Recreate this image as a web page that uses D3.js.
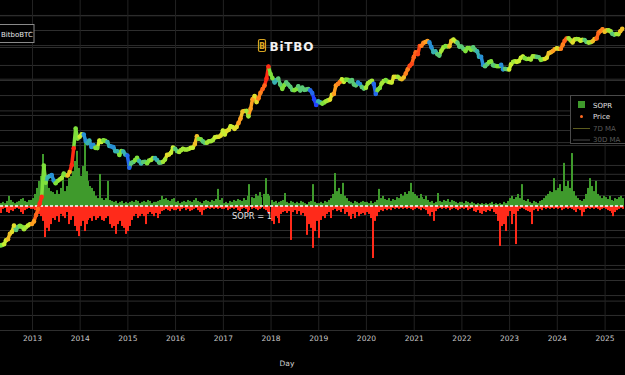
<!DOCTYPE html>
<html>
<head>
<meta charset="utf-8">
<script src="https://cdn.jsdelivr.net/npm/d3@7"></script>
<style>
  html, body { margin: 0; padding: 0; background: #000; }
  svg { display: block; font-family: "DejaVu Sans", sans-serif; }
</style>
</head>
<body>
<div id="chart"></div>
<script>
// half-month samples (1st and 16th of each month) starting May 2012
const firstYear = 2012, firstMonth = 4;

const price = [
  5.0, 5.1, 5.3, 6.4, 6.7, 8.6, 9.4, 12.5, 10.2, 11.8, 12.4, 11.8, 10.6, 11.7, 12.6, 13.3,
  13.5, 15.2, 20.4, 27, 34.5, 47, 200, 90, 116, 123, 129, 100, 88, 98, 105, 112, 138, 127, 126, 148, 203, 440, 1100, 690,
  750, 840, 830, 620, 560, 630, 470, 510, 450, 445, 630, 590, 640, 620, 590, 490, 480, 465, 385, 385, 325, 390, 380, 330,
  315, 180, 225, 235, 255, 285, 245, 220, 235, 237, 222, 250, 258, 280, 280, 257, 228, 229, 237, 262, 325, 330, 360, 455,
  432, 387, 372, 405, 433, 416, 416, 430, 450, 454, 535, 765, 675, 665, 605, 567, 572, 607, 613, 640, 730, 745, 752, 790,
  1000, 830, 990, 1040, 1220, 1170, 1080, 1180, 1420, 1730, 2400, 2450, 2490, 1920, 2720, 4200, 4900, 3700, 4400, 5700, 6750, 7900, 10900, 19000,
  13500, 11100, 9100, 10200, 10900, 8300, 6800, 8100, 9200, 8300, 7500, 6500, 6400, 6700, 7700, 6300, 7200, 6500, 6600, 6750, 6350, 5600, 4200, 3250,
  3850, 3650, 3450, 3650, 3850, 4000, 4150, 5200, 5400, 7900, 8550, 9300, 10600, 9400, 10400, 10300, 9600, 10250, 8300, 8000, 9150, 8500, 7400, 6900,
  7200, 8800, 9400, 9900, 8550, 5400, 6600, 7100, 8800, 9700, 10200, 9500, 9230, 9100, 11800, 11900, 11900, 11000, 10600, 11500, 13800, 16700, 19600, 21300,
  29300, 36800, 33500, 49100, 49600, 56500, 58900, 61300, 57800, 46400, 36700, 38300, 33500, 31500, 39900, 45900, 48800, 48000, 48200, 62000, 66000, 60300, 57200, 47600,
  47700, 43100, 38700, 44600, 44400, 41100, 46300, 40500, 38500, 30000, 29800, 20400, 19300, 21200, 23300, 24100, 20100, 19700, 19300, 19300, 20500, 16700, 17100, 16800,
  16600, 21100, 23700, 24300, 23600, 24400, 28500, 30300, 28000, 27000, 27200, 26300, 30600, 30300, 29700, 29200, 25900, 26600, 27000, 28500, 35400, 36600, 38700, 42300,
  44200, 43100, 43100, 52100, 62400, 69400, 69700, 63400, 57800, 66200, 67800, 66600, 62700, 64800, 64600, 58900, 57300, 58200, 60800, 67600, 69500, 90600, 97200, 106100,
  94400, 100500, 100600, 96000, 86000, 82700, 85100, 84000, 96500, 108000
];

// highest SOPR above 1 within each half month
const soprUp = [
  1.009, 1.013, 1.009, 1.016, 1.032, 1.019, 1.013, 1.009, 1.013, 1.016, 1.022, 1.025, 1.016, 1.013, 1.019, 1.019,
  1.025, 1.038, 1.057, 1.079, 1.095, 1.164, 1.126, 1.069, 1.057, 1.047, 1.044, 1.038, 1.050, 1.038, 1.057, 1.101, 1.047, 1.063, 1.088, 1.095, 1.110, 1.142, 1.174, 1.120,
  1.095, 1.126, 1.205, 1.110, 1.079, 1.063, 1.057, 1.047, 1.032, 1.025, 1.101, 1.025, 1.019, 1.025, 1.079, 1.019, 1.016, 1.013, 1.016, 1.009, 1.013, 1.016, 1.009, 1.013,
  1.009, 1.013, 1.016, 1.013, 1.019, 1.016, 1.009, 1.013, 1.016, 1.013, 1.019, 1.016, 1.009, 1.013, 1.013, 1.016, 1.019, 1.032, 1.022, 1.025, 1.019, 1.016, 1.022, 1.025,
  1.013, 1.016, 1.009, 1.013, 1.016, 1.013, 1.019, 1.016, 1.013, 1.019, 1.025, 1.016, 1.013, 1.009, 1.016, 1.019, 1.016, 1.013, 1.019, 1.016, 1.022, 1.054, 1.019, 1.025,
  1.009, 1.013, 1.009, 1.016, 1.013, 1.019, 1.016, 1.022, 1.019, 1.016, 1.025, 1.019, 1.032, 1.069, 1.028, 1.025, 1.038, 1.032, 1.044, 1.028, 1.038, 1.088, 1.038, 1.032,
  1.019, 1.013, 1.016, 1.009, 1.013, 1.016, 1.019, 1.041, 1.013, 1.009, 1.016, 1.013, 1.009, 1.013, 1.009, 1.016, 1.013, 1.009, 1.006, 1.013, 1.016, 1.069, 1.013, 1.009,
  1.009, 1.013, 1.009, 1.016, 1.013, 1.019, 1.025, 1.038, 1.104, 1.047, 1.057, 1.038, 1.073, 1.032, 1.025, 1.016, 1.013, 1.009, 1.016, 1.013, 1.009, 1.013, 1.016, 1.013,
  1.013, 1.009, 1.016, 1.009, 1.013, 1.019, 1.054, 1.025, 1.032, 1.022, 1.019, 1.025, 1.016, 1.022, 1.019, 1.028, 1.025, 1.038, 1.032, 1.044, 1.038, 1.047, 1.073, 1.044,
  1.038, 1.032, 1.025, 1.038, 1.028, 1.022, 1.032, 1.019, 1.013, 1.016, 1.009, 1.013, 1.041, 1.016, 1.013, 1.019, 1.016, 1.022, 1.013, 1.019, 1.016, 1.013, 1.009, 1.013,
  1.013, 1.009, 1.016, 1.013, 1.009, 1.013, 1.009, 1.006, 1.009, 1.006, 1.009, 1.006, 1.009, 1.006, 1.009, 1.013, 1.006, 1.009, 1.006, 1.009, 1.006, 1.013, 1.009, 1.016,
  1.025, 1.032, 1.022, 1.028, 1.038, 1.025, 1.069, 1.019, 1.016, 1.022, 1.013, 1.009, 1.016, 1.013, 1.009, 1.016, 1.019, 1.025, 1.032, 1.038, 1.047, 1.044, 1.088, 1.050,
  1.057, 1.069, 1.047, 1.136, 1.063, 1.079, 1.057, 1.167, 1.047, 1.032, 1.025, 1.019, 1.016, 1.022, 1.038, 1.057, 1.088, 1.063, 1.047, 1.079, 1.038, 1.032, 1.025, 1.032,
  1.028, 1.022, 1.032, 1.019, 1.016, 1.025, 1.022, 1.028, 1.032, 1.025
];

// lowest SOPR below 1 within each half month
const soprDown = [
  0.978, 0.991, 0.994, 0.981, 0.978, 0.987, 0.984, 0.991, 0.994, 0.991, 0.981, 0.975, 0.987, 0.991, 0.994, 0.991,
  0.991, 0.987, 0.984, 0.975, 0.968, 0.953, 0.902, 0.931, 0.921, 0.943, 0.962, 0.956, 0.968, 0.950, 0.975, 0.968, 0.962, 0.981, 0.943, 0.956, 0.968, 0.937, 0.921, 0.905,
  0.937, 0.953, 0.921, 0.943, 0.956, 0.962, 0.953, 0.968, 0.956, 0.962, 0.968, 0.956, 0.953, 0.962, 0.968, 0.943, 0.931, 0.937, 0.912, 0.943, 0.953, 0.937, 0.931, 0.912,
  0.921, 0.937, 0.956, 0.968, 0.975, 0.962, 0.968, 0.975, 0.968, 0.943, 0.975, 0.981, 0.975, 0.968, 0.978, 0.962, 0.975, 0.984, 0.987, 0.991, 0.987, 0.984, 0.991, 0.987,
  0.987, 0.991, 0.984, 0.991, 0.994, 0.987, 0.991, 0.984, 0.987, 0.991, 0.994, 0.987, 0.981, 0.972, 0.987, 0.991, 0.994, 0.991, 0.994, 0.991, 0.994, 0.991, 0.994, 0.991,
  0.991, 0.994, 0.987, 0.991, 0.994, 0.991, 0.994, 0.987, 0.984, 0.991, 0.994, 0.991, 0.981, 0.987, 0.991, 0.994, 0.991, 0.987, 0.991, 0.994, 0.991, 0.987, 0.981, 0.975,
  0.953, 0.943, 0.968, 0.962, 0.946, 0.975, 0.981, 0.984, 0.978, 0.984, 0.893, 0.981, 0.987, 0.975, 0.984, 0.972, 0.978, 0.968, 0.909, 0.943, 0.931, 0.868, 0.921, 0.953,
  0.899, 0.956, 0.968, 0.962, 0.975, 0.981, 0.962, 0.987, 0.991, 0.984, 0.987, 0.981, 0.991, 0.975, 0.981, 0.968, 0.959, 0.975, 0.962, 0.981, 0.968, 0.975, 0.978, 0.972,
  0.981, 0.975, 0.962, 0.836, 0.953, 0.968, 0.981, 0.987, 0.984, 0.991, 0.987, 0.991, 0.987, 0.994, 0.991, 0.994, 0.991, 0.994, 0.991, 0.994, 0.991, 0.994, 0.991, 0.987,
  0.991, 0.994, 0.991, 0.987, 0.994, 0.991, 0.987, 0.975, 0.968, 0.981, 0.953, 0.984, 0.991, 0.994, 0.991, 0.994, 0.991, 0.994, 0.987, 0.991, 0.994, 0.991, 0.987, 0.991,
  0.994, 0.991, 0.994, 0.987, 0.991, 0.994, 0.984, 0.981, 0.987, 0.978, 0.975, 0.984, 0.981, 0.987, 0.984, 0.991, 0.981, 0.975, 0.953, 0.874, 0.937, 0.943, 0.921, 0.968,
  0.984, 0.943, 0.975, 0.880, 0.984, 0.991, 0.994, 0.991, 0.987, 0.984, 0.981, 0.943, 0.987, 0.991, 0.984, 0.991, 0.987, 0.994, 0.991, 0.994, 0.991, 0.994, 0.991, 0.994,
  0.991, 0.994, 0.987, 0.991, 0.994, 0.991, 0.994, 0.991, 0.987, 0.981, 0.991, 0.987, 0.968, 0.981, 0.991, 0.994, 0.991, 0.994, 0.991, 0.994, 0.991, 0.987, 0.991, 0.994,
  0.991, 0.987, 0.984, 0.978, 0.968, 0.981, 0.987, 0.991, 0.994, 0.991
];

// monthly SOPR moving average used to colour the price markers (May 2012 .. May 2025)
const soprMA = [
  1.0, 1.01, 1.02, 1.015, 0.995, 1.0, 1.005, 1.01,
  1.025, 1.035, 1.045, 1.0, 0.99, 0.985, 1.0, 1.005, 1.0, 1.02, 1.05, 1.0,
  1.01, 0.985, 0.99, 0.985, 1.0, 1.01, 1.0, 0.99, 0.985, 0.99, 1.0, 0.99,
  0.98, 0.995, 1.0, 0.99, 0.995, 1.0, 1.005, 0.99, 0.995, 1.005, 1.015, 1.01,
  0.995, 1.005, 1.005, 1.005, 1.01, 1.02, 1.0, 0.995, 1.005, 1.005, 1.01, 1.015,
  1.01, 1.015, 1.01, 1.015, 1.025, 1.02, 1.005, 1.025, 1.015, 1.03, 1.035, 1.045,
  1.0, 0.99, 0.995, 1.0, 0.995, 0.995, 1.0, 0.995, 0.995, 0.995, 0.98, 0.975,
  0.99, 1.0, 1.005, 1.015, 1.025, 1.03, 1.01, 1.0, 0.995, 0.995, 0.985, 0.995,
  1.005, 1.005, 0.98, 1.0, 1.005, 1.0, 1.01, 1.015, 1.005, 1.02, 1.03, 1.04,
  1.035, 1.04, 1.03, 1.025, 0.985, 0.99, 0.995, 1.005, 1.0, 1.02, 1.01, 0.995,
  0.995, 1.0, 1.0, 0.995, 0.99, 0.985, 0.995, 1.0, 0.995, 1.0, 0.985, 0.995,
  1.01, 1.005, 1.01, 1.01, 1.0, 1.005, 1.005, 0.995, 1.0, 1.015, 1.02, 1.025,
  1.015, 1.03, 1.035, 1.005, 1.015, 1.005, 1.01, 0.995, 1.005, 1.02, 1.035, 1.03,
  1.02, 1.005, 0.995, 1.005, 1.02
];

const priceGrid = [0.1, 0.2, 0.5, 1, 2, 5, 10, 20, 50, 100, 200, 500, 1000, 2000, 5000, 10000, 20000, 50000, 100000, 200000];
const soprGrid = [0.7, 0.8, 0.9, 1.1, 1.2, 1.3, 1.4, 1.5, 1.6];
const legendItems = ["SOPR", "Price", "7D MA", "30D MA"];

const w = 625;
const h = 375;
const plotBottom = 330;

const dates = price.map((d, i) => new Date(firstYear, firstMonth + Math.floor(i / 2), i % 2 ? 16 : 1));

const svg = d3.select('#chart')
    .append('svg')
    .attr('width', w)
    .attr('height', h)
    .style('background', '#000');

const xScale = d3.scaleTime()
    .domain([new Date(2013, 0, 1), new Date(2025, 0, 1)])
    .range([32, 604.6]);

const yPrice = d3.scaleLog()
    .domain([100000, 0.1])
    .range([30.5, 330.5]);

const ySopr = d3.scaleLinear()
    .domain([1, 1.6])
    .range([206, 15.8]);

const colorScale = d3.scaleLinear()
    .domain([0.975, 0.988, 1.0, 1.012, 1.025, 1.045])
    .range(['#2040ff', '#2aa8c8', '#7ee03c', '#d8f030', '#ffa020', '#ff2a14'])
    .clamp(true);

// grid
const grid = svg.append('g');
grid.selectAll('.hp')
    .data(priceGrid)
    .enter().append('line')
    .attr('x1', 0).attr('x2', w)
    .attr('y1', d => yPrice(d)).attr('y2', d => yPrice(d))
    .attr('stroke', '#2e2e2e');
grid.selectAll('.hs')
    .data(soprGrid)
    .enter().append('line')
    .attr('x1', 0).attr('x2', w)
    .attr('y1', d => ySopr(d)).attr('y2', d => ySopr(d))
    .attr('stroke', '#2e2e2e');

const xAxis = d3.axisBottom(xScale)
    .ticks(d3.timeYear.every(1))
    .tickFormat(d3.timeFormat('%Y'))
    .tickSize(-plotBottom)
    .tickPadding(6);

const ax = svg.append('g')
    .attr('transform', 'translate(0,' + plotBottom + ')')
    .call(xAxis);
ax.select('.domain').remove();
ax.selectAll('line').attr('stroke', '#222');
ax.selectAll('text')
    .attr('fill', '#c8c8c8')
    .style('font-size', '7.5px')
    .style('font-family', '"DejaVu Sans", sans-serif');

// SOPR bars, snapped to whole pixels
const barW = 2;
const barX = i => Math.round(xScale(dates[i]));

svg.append('g').selectAll('rect')
    .data(soprUp)
    .enter().append('rect')
    .attr('x', (d, i) => barX(i))
    .attr('y', d => ySopr(d))
    .attr('width', barW)
    .attr('height', d => ySopr(1) - ySopr(d))
    .attr('fill', '#3f9a2c');

svg.append('g').selectAll('rect')
    .data(soprDown)
    .enter().append('rect')
    .attr('x', (d, i) => barX(i))
    .attr('y', ySopr(1))
    .attr('width', barW)
    .attr('height', d => ySopr(d) - ySopr(1))
    .attr('fill', '#ff2a1a');

svg.append('line')
    .attr('x1', 0).attr('x2', w)
    .attr('y1', ySopr(1)).attr('y2', ySopr(1))
    .attr('stroke', '#fff')
    .attr('stroke-width', 1.3)
    .attr('stroke-dasharray', '3,2');

svg.append('text')
    .attr('x', 232)
    .attr('y', 219)
    .attr('fill', '#e0e0e0')
    .style('font-size', '8.3px')
    .text('SOPR = 1');

// price coloured by SOPR
const pts = price.map((p, i) => ({ x: xScale(dates[i]), y: yPrice(p), c: colorScale(soprMA[Math.floor(i / 2)]) }));

svg.append('g').selectAll('line')
    .data(pts.slice(1))
    .enter().append('line')
    .attr('x1', (d, i) => pts[i].x)
    .attr('y1', (d, i) => pts[i].y)
    .attr('x2', d => d.x)
    .attr('y2', d => d.y)
    .attr('stroke', d => d.c)
    .attr('stroke-width', 3.5)
    .attr('stroke-linecap', 'round');

svg.append('g').selectAll('circle')
    .data(pts)
    .enter().append('circle')
    .attr('cx', d => d.x)
    .attr('cy', d => d.y)
    .attr('r', 2.3)
    .attr('fill', d => d.c);

// logo
const logo = svg.append('g');
logo.append('rect')
    .attr('x', 258.5).attr('y', 39.5)
    .attr('width', 7).attr('height', 12)
    .attr('rx', 1.5)
    .attr('fill', 'none')
    .attr('stroke', '#d9a521')
    .attr('stroke-width', 1.2);
logo.append('text')
    .attr('x', 262).attr('y', 49)
    .attr('text-anchor', 'middle')
    .attr('fill', '#d9a521')
    .style('font-size', '8px')
    .style('font-weight', 'bold')
    .text('B');
logo.append('text')
    .attr('x', 269.5).attr('y', 50.5)
    .attr('fill', '#f2f2f2')
    .style('font-size', '12px')
    .style('font-weight', 'bold')
    .style('letter-spacing', '0.8px')
    .text('BiTBO');

// title box
svg.append('rect')
    .attr('x', -1).attr('y', 24.5)
    .attr('width', 35).attr('height', 18)
    .attr('fill', '#000')
    .attr('stroke', '#8a8a8a');
svg.append('text')
    .attr('x', 1).attr('y', 36.5)
    .attr('fill', '#e6e6e6')
    .style('font-size', '7px')
    .text('BitboBTC');

// legend
const lg = svg.append('g').attr('transform', 'translate(570,95)');
lg.append('rect')
    .attr('x', 0.5).attr('y', 0.5)
    .attr('width', 60).attr('height', 48)
    .attr('fill', '#000')
    .attr('stroke', '#4a4a4a');
lg.append('rect').attr('x', 8).attr('y', 6).attr('width', 7).attr('height', 7).attr('fill', '#3f9a2c');
lg.append('circle').attr('cx', 11.5).attr('cy', 21.5).attr('r', 1.5).attr('fill', '#ff6a20');
lg.append('line').attr('x1', 3).attr('x2', 20).attr('y1', 33.5).attr('y2', 33.5).attr('stroke', '#5c5c1e');
lg.append('line').attr('x1', 3).attr('x2', 20).attr('y1', 45).attr('y2', 45).attr('stroke', '#4a4a4a');
lg.selectAll('text')
    .data(legendItems)
    .enter().append('text')
    .attr('x', 23)
    .attr('y', (d, i) => 12.5 + i * 11.5)
    .attr('fill', (d, i) => i < 2 ? '#e0e0e0' : '#5a5a5a')
    .style('font-size', '7px')
    .text(d => d);

svg.append('text')
    .attr('x', 287)
    .attr('y', 366)
    .attr('text-anchor', 'middle')
    .attr('fill', '#d0d0d0')
    .style('font-size', '7.5px')
    .text('Day');
</script>
</body>
</html>
